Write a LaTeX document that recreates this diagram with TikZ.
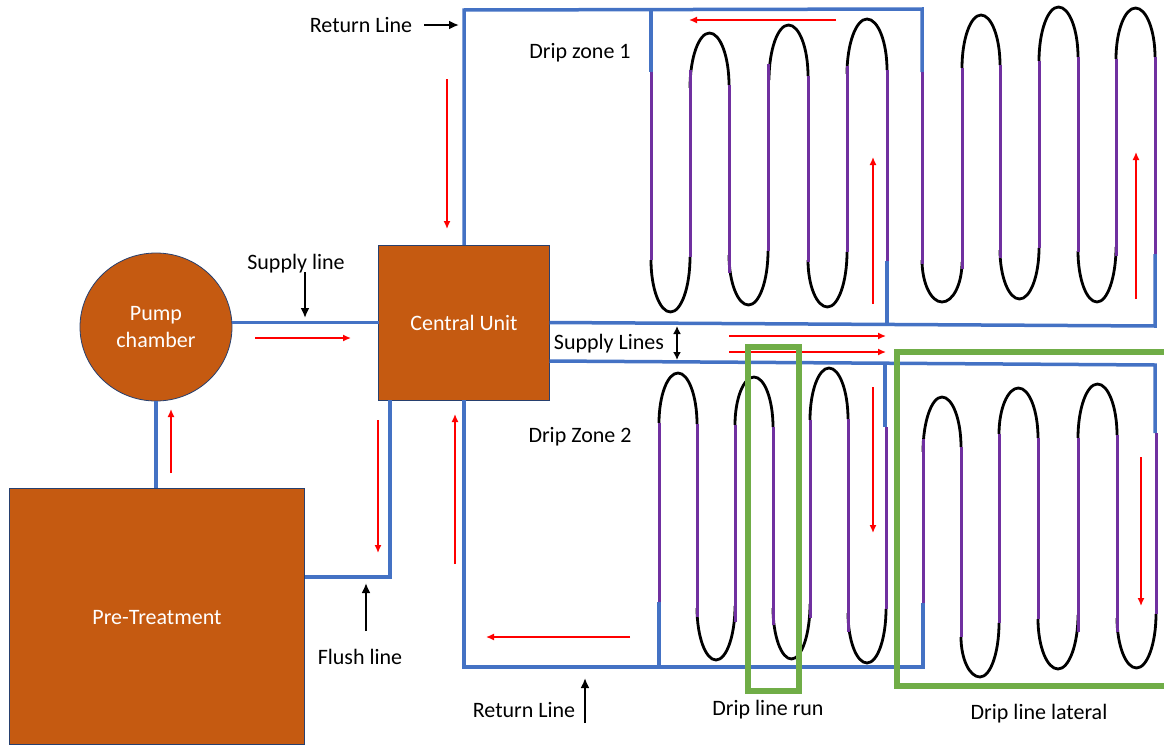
\documentclass[tikz,border=0pt]{standalone}
\usepackage{fontspec}
\setmainfont{Carlito}
\usetikzlibrary{arrows.meta,shapes.geometric}
\definecolor{tankfill}{HTML}{C55A11}
\definecolor{tankline}{HTML}{27406F}
\definecolor{pipeblue}{HTML}{4472C4}
\definecolor{runpurple}{HTML}{7030A0}
\definecolor{markgreen}{HTML}{70AD47}
\tikzset{%
  tank/.style={rectangle,draw=tankline,fill=tankfill,line width=0.8pt,text=white,inner sep=0pt,outer sep=0pt},
  pump/.style={ellipse,draw=tankline,fill=tankfill,line width=0.8pt,text=white,inner sep=0pt,outer sep=0pt,align=center},
  lbl/.style={inner sep=0pt},
  pipe/.style={draw=pipeblue,line width=3.5pt},
  drip_run/.style={draw=runpurple,line width=3pt},
  drip_bend/.style={draw=black,line width=2.8pt},
  flow/.style={draw=red,line width=1.4pt,-{Latex[length=8pt,width=7pt]}},
  pointer/.style={draw=black,line width=2.3pt,-{Latex[length=10pt,width=9pt]}},
  mark_box/.style={draw=markgreen,line width=5.5pt}%
}
\newcommand{\dripbend}[5]{%
  \draw[drip_bend] (#1,#3) .. controls (#1,{#3+0.55*(#5-#3)}) and ({(#1+#2)/2-0.275*(#2-#1)},#5) .. ({(#1+#2)/2},#5)
    .. controls ({(#1+#2)/2+0.275*(#2-#1)},#5) and (#2,{#4+0.55*(#5-#4)}) .. (#2,#4);}
\begin{document}
\begin{tikzpicture}[x=1pt,y=-1pt,font=\fontsize{22}{27}\selectfont]
      \useasboundingbox (0,0) rectangle (1164,744);

      \node (pump_chamber) [pump,minimum width=152pt,minimum height=148pt] at (156,327) {Pump\\chamber};
      \node (central_unit) [tank,minimum width=171pt,minimum height=155pt] at (464,322.5) {Central Unit};
      \node (pre_treatment) [tank,minimum width=295pt,minimum height=256pt] at (157,616) {\raisebox{-2pt}[\height][\depth]{Pre-Treatment}};

      \node (supply_line) [lbl] at (296,264) {Supply line};
      \node (return_line_a) [lbl] at (361,25) {Return Line};
      \node (zone_a) [lbl] at (580,53) {Drip zone 1};
      \node (zone_b) [lbl] at (580,437) {Drip Zone 2};
      \node (supply_lines) [lbl] at (609,344) {Supply Lines};
      \node (flush_line) [lbl] at (360,657) {Flush line};
      \node (return_line_b) [lbl] at (524,710) {Return Line};
      \node (run_label) [lbl] at (768,710) {Drip line run};
      \node (lateral_label) [lbl] at (1039,714) {Drip line lateral};

      % pipes
      \coordinate (return_a_left) at (464,10);
      \coordinate (return_a_right) at (922,9);
      \coordinate (return_b_left) at (464,667);
      \coordinate (return_b_right) at (923,667);
      \coordinate (flush_corner) at (390,577);
      \draw[pipe] (central_unit.west -| pump_chamber.east) -- (central_unit.west);
      \draw[pipe] (pump_chamber.south) -- (pump_chamber.south |- pre_treatment.north);
      \draw[pipe] (central_unit.south -| flush_corner) -- (flush_corner) -- (flush_corner -| pre_treatment.east);
      \draw[pipe] (central_unit.north) -- (return_a_left) -- (return_a_right) -- (922,72);
      \draw[pipe] (651,10) -- (651,72);
      \draw[pipe] (central_unit.east) -- (1155,326) -- (1155,254);
      \draw[pipe] (887,325) -- (887,261);
      \draw[pipe] ([yshift=39pt]central_unit.south east) -- (1155,365) -- (1155,433);
      \draw[pipe] (885,363) -- (885,427);
      \draw[pipe] (central_unit.south) -- (return_b_left) -- (return_b_right) -- (923,603);
      \draw[pipe] (659,667) -- (659,602);

      % bends, zone 1 then zone 2
      \foreach \xa/\xb/\ya/\yb/\yc in {
        690/729/88/85/33, 769/808/80/76/25, 847/887/74/70/19, 962/1000/68/65/15, 1039/1078/61/57/7, 1116/1155/59/57/8,
        651/690/260/257/312, 729/768/255/251/305, 808/847/260/252/307, 922/962/260/262/302, 1000/1039/250/248/299, 1078/1116/251/247/302,
        659/697/423/424/373, 735/773/425/427/377, 810/848/420/419/368, 923/961/452/447/397, 999/1038/434/438/388, 1078/1117/438/435/384,
        697/735/608/606/660, 773/810/608/604/659, 848/886/613/609/663, 961/999/637/623/677, 1038/1078/619/615/669, 1117/1156/618/614/668}
        {\dripbend{\xa}{\xb}{\ya}{\yb}{\yc}}

      % runs
      \foreach \x/\ya/\yb in {
        651/72/260, 690/70/257, 729/85/273, 768/64/251, 808/76/262, 847/66/252, 887/70/261,
        922/72/264, 962/68/269, 1000/65/258, 1039/61/248, 1078/57/252, 1116/59/256, 1155/57/254,
        659/423/602, 697/424/617, 735/425/622, 773/427/625, 810/420/618, 848/419/632, 886/427/609,
        923/439/603, 961/447/637, 999/434/623, 1038/438/619, 1078/438/632, 1117/435/632, 1156/433/614}
        \draw[drip_run] (\x,\ya) -- (\x,\yb);

      % flow directions
      \foreach \xa/\ya/\xb/\yb in {
        255/338/351/338, 171/473/171/409, 447/79/447/229, 378/420/378/553, 455/564/455/414,
        630/637/486/637, 729/336/886/336, 729/352/886/352, 836/20/689/20, 873/304/873/157,
        1136/299/1136/152, 873/387/873/533, 1141/457/1141/606}
        \draw[flow] (\xa,\ya) -- (\xb,\yb);

      % pointers
      \draw[pointer] (424,25) -- (459,25);
      \draw[pointer] (305,272) -- (305,318);
      \draw[pointer] (366,631) -- (366,583);
      \draw[pointer] (585,723) -- (585,678);
      \draw[pointer,{Latex[length=8pt,width=8pt]}-{Latex[length=8pt,width=8pt]}] (677,326) -- (677,360);

      % marked regions
      \draw[mark_box] (748,347) rectangle (799,691);
      \draw[mark_box] (1164,352) -- (897,352) -- (897,686) -- (1164,686);
\end{tikzpicture}
\end{document}
